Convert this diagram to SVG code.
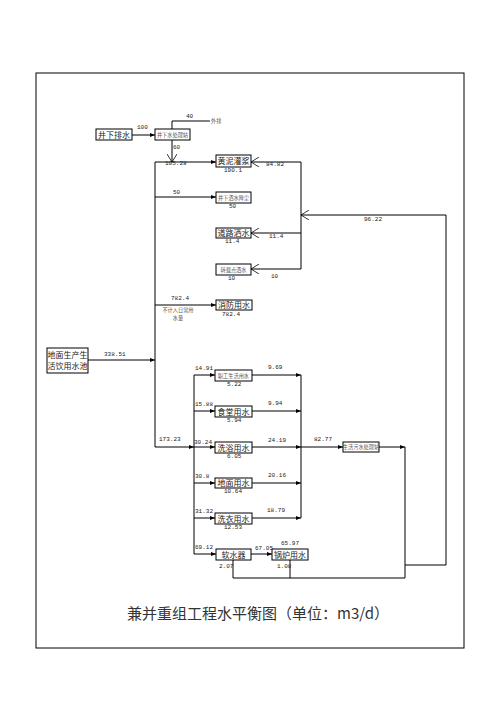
<svg xmlns="http://www.w3.org/2000/svg" width="496" height="702" viewBox="0 0 496 702">
<defs>
<marker id="arr" markerWidth="5" markerHeight="4" refX="5" refY="2" orient="auto" markerUnits="userSpaceOnUse"><path d="M0,0 L5,2 L0,4 Z" fill="#000"/></marker>
<marker id="chev" markerWidth="8" markerHeight="10" refX="8" refY="5" orient="auto" markerUnits="userSpaceOnUse"><path d="M0,0 L8,5 L0,10" fill="none" stroke="#000" stroke-width="0.8"/></marker>
</defs>
<style>
.box{fill:#fff;stroke:#000;stroke-width:1}
.ln{fill:none;stroke:#000;stroke-width:1}
.t{font-family:"Noto Sans CJK SC","Liberation Serif",serif;font-size:8px;fill:#222}
.s{font-family:"Noto Sans CJK SC","Liberation Serif",serif;font-size:5.2px;fill:#555}
.n{font-family:"Liberation Mono","DejaVu Sans Mono",monospace;font-size:6px;fill:#222}
.title{font-family:"Noto Sans CJK SC","Liberation Serif",serif;font-size:15px;fill:#333}
</style>
<rect x="36" y="73" width="428" height="575" fill="none" stroke="#000" stroke-width="1"/>
<g id="connectors">
<path class="ln" d="M132,135 H155" marker-end="url(#arr)"/>
<path class="ln" d="M172,129 V121 H210"/>
<path class="ln" d="M172,140 V162" marker-end="url(#chev)"/>
<path class="ln" d="M155,447 V162 H216" marker-end="url(#arr)"/>
<path class="ln" d="M155,197 H216" marker-end="url(#arr)"/>
<path class="ln" d="M155,305 H216" marker-end="url(#arr)"/>
<path class="ln" d="M88,360 H155" marker-end="url(#arr)"/>
<path class="ln" d="M155,447 H194" marker-end="url(#arr)"/>
<path class="ln" d="M194,375 V554"/>
<path class="ln" d="M194,375 H215" marker-end="url(#arr)"/>
<path class="ln" d="M194,411 H215" marker-end="url(#arr)"/>
<path class="ln" d="M194,447 H215" marker-end="url(#arr)"/>
<path class="ln" d="M194,483 H215" marker-end="url(#arr)"/>
<path class="ln" d="M194,518 H215" marker-end="url(#arr)"/>
<path class="ln" d="M194,554 H216" marker-end="url(#arr)"/>
<path class="ln" d="M301,375 V518"/>
<path class="ln" d="M252,375 H301" marker-end="url(#arr)"/>
<path class="ln" d="M252,411 H301" marker-end="url(#arr)"/>
<path class="ln" d="M252,447 H301" marker-end="url(#arr)"/>
<path class="ln" d="M252,483 H301" marker-end="url(#arr)"/>
<path class="ln" d="M252,518 H301" marker-end="url(#arr)"/>
<path class="ln" d="M301,447 H343" marker-end="url(#arr)"/>
<path class="ln" d="M379,447 H405" marker-end="url(#arr)"/>
<path class="ln" d="M405,447 V578"/>
<path class="ln" d="M251,554 H272" marker-end="url(#arr)"/>
<path class="ln" d="M233,560 V578 H405"/>
<path class="ln" d="M290,560 V578"/>
<path class="ln" d="M405,565 H446 V215 H301" marker-end="url(#chev)"/>
<path class="ln" d="M301,162 V269"/>
<path class="ln" d="M301,162 H251" marker-end="url(#chev)"/>
<path class="ln" d="M301,233 H251" marker-end="url(#chev)"/>
<path class="ln" d="M301,269 H251" marker-end="url(#chev)"/>
</g>
<g id="labels">
<text class="n" x="137" y="129">100</text>
<text class="n" x="186" y="118">40</text>
<text class="s" x="211" y="123">外排</text>
<text class="n" x="173" y="149">60</text>
<text class="n" x="165" y="165">105.28</text>
<text class="n" x="266" y="166">84.82</text>
<text class="n" x="173" y="194">50</text>
<text class="n" x="269" y="238">11.4</text>
<text class="n" x="271" y="278">10</text>
<text class="n" x="364" y="221">96.22</text>
<text class="n" x="171" y="300">782.4</text>
<text class="s" x="178" y="312" text-anchor="middle">不计入日常用</text>
<text class="s" x="178" y="320" text-anchor="middle">水量</text>
<text class="n" x="104" y="356">338.51</text>
<text class="n" x="159" y="441">173.23</text>
<text class="n" x="195" y="370">14.91</text>
<text class="n" x="195" y="406">15.88</text>
<text class="n" x="194" y="444">30.24</text>
<text class="n" x="195" y="478">30.8</text>
<text class="n" x="195" y="513">31.32</text>
<text class="n" x="195" y="549">69.12</text>
<text class="n" x="268" y="369">9.69</text>
<text class="n" x="268" y="405">9.94</text>
<text class="n" x="268" y="442">24.19</text>
<text class="n" x="268" y="477">20.16</text>
<text class="n" x="267" y="512">18.79</text>
<text class="n" x="314" y="441">82.77</text>
<text class="n" x="255" y="550">67.05</text>
<text class="n" x="281" y="545">65.97</text>
<text class="n" x="219" y="568">2.07</text>
<text class="n" x="277" y="568">1.08</text>
</g>
<g id="n1"><rect class="box" x="96" y="129" width="36" height="11"/><text class="t" x="114" y="137.8" text-anchor="middle">井下排水</text></g>
<g id="n2"><rect class="box" x="155" y="129" width="35" height="11"/><text class="s" x="172.5" y="136.5" text-anchor="middle">井下水处理站</text></g>
<g id="n3"><rect class="box" x="216" y="155" width="35" height="12"/><text class="t" x="233.5" y="164.3" text-anchor="middle">黄泥灌浆</text><text class="n" x="224" y="172">190.1</text></g>
<g id="n4"><rect class="box" x="216" y="192" width="35" height="11"/><text class="s" x="233.5" y="199.5" text-anchor="middle">井下洒水降尘</text><text class="n" x="229" y="208">50</text></g>
<g id="n5"><rect class="box" x="216" y="228" width="35" height="10"/><text class="t" x="233.5" y="236.3" text-anchor="middle">道路洒水</text><text class="n" x="225" y="243">11.4</text></g>
<g id="n6"><rect class="box" x="216" y="264" width="35" height="11"/><text class="s" x="233.5" y="271.5" text-anchor="middle">转载点洒水</text><text class="n" x="228" y="280">10</text></g>
<g id="n7"><rect class="box" x="216" y="300" width="36" height="10"/><text class="t" x="234" y="308.3" text-anchor="middle">消防用水</text><text class="n" x="222" y="316">782.4</text></g>
<g id="n8"><rect class="box" x="47" y="348" width="41" height="25"/><text class="t" x="67.5" y="358" text-anchor="middle">地面生产生</text><text class="t" x="67.5" y="369" text-anchor="middle">活饮用水池</text></g>
<g id="n9"><rect class="box" x="215" y="370" width="37" height="11"/><text class="s" x="233.5" y="377.5" text-anchor="middle">职工生活用水</text><text class="n" x="227" y="386">5.22</text></g>
<g id="n10"><rect class="box" x="215" y="406" width="37" height="11"/><text class="t" x="233.5" y="414.8" text-anchor="middle">食堂用水</text><text class="n" x="227" y="422">5.94</text></g>
<g id="n11"><rect class="box" x="215" y="442" width="37" height="11"/><text class="t" x="233.5" y="450.8" text-anchor="middle">洗浴用水</text><text class="n" x="227" y="458">6.05</text></g>
<g id="n12"><rect class="box" x="215" y="478" width="37" height="10"/><text class="t" x="233.5" y="486.3" text-anchor="middle">地面用水</text><text class="n" x="224" y="493">10.64</text></g>
<g id="n13"><rect class="box" x="215" y="513" width="37" height="11"/><text class="t" x="233.5" y="521.8" text-anchor="middle">洗衣用水</text><text class="n" x="224" y="529">12.53</text></g>
<g id="n14"><rect class="box" x="216" y="549" width="35" height="11"/><text class="t" x="233.5" y="557.8" text-anchor="middle">软水器</text></g>
<g id="n15"><rect class="box" x="272" y="549" width="36" height="11"/><text class="t" x="290" y="557.8" text-anchor="middle">锅炉用水</text></g>
<g id="n16"><rect class="box" x="343" y="442" width="36" height="10"/><text class="s" x="361" y="449" text-anchor="middle">生活污水处理站</text></g>
<text class="title" x="258" y="619" text-anchor="middle">兼并重组工程水平衡图（单位：m3/d）</text>
</svg>
